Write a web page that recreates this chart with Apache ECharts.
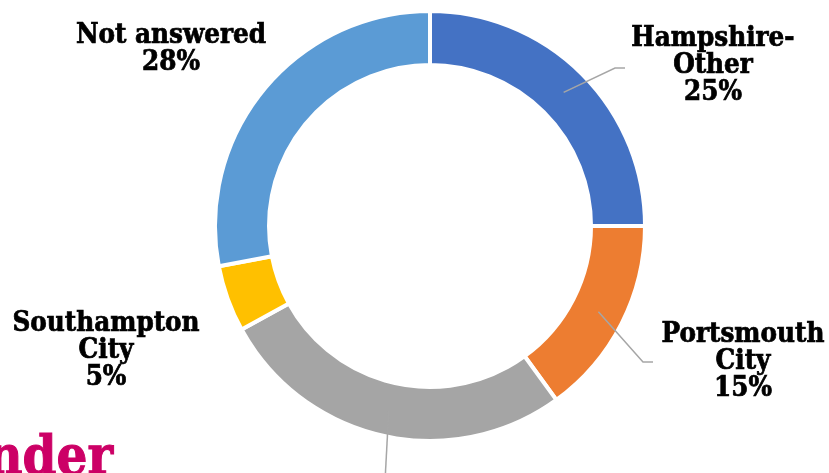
<!DOCTYPE html>
<html>
<head>
<meta charset="utf-8">
<script src="https://cdn.jsdelivr.net/npm/echarts@6/dist/echarts.min.js"></script>
<style>
  html, body { margin: 0; padding: 0; background: #ffffff; }
  #chart { width: 829px; height: 473px; }
</style>
</head>
<body>
<div id="chart"></div>
<script>
// Respondents by area (share of total, %)
const areas = ['Hampshire-\nOther', 'Portsmouth\nCity', 'Outside\nHampshire', 'Southampton\nCity', 'Not answered'];
const shares = [25, 15, 27, 5, 28];
const sliceColors = ['#4472C4', '#ED7D31', '#A5A5A5', '#FFC000', '#5B9BD5'];

// Label block centres and leader-line ends (null = no leader line)
const labelCentres = [[713, 66], [743, 362], [386, 530], [106, 351], [171, 49]];
const leaderEnds = [[625, 68], [653, 362], [384, 500], null, null];

const font = '"DejaVu Serif Condensed", "DejaVu Serif", serif';

const chart = echarts.init(document.getElementById('chart'), null, { renderer: 'canvas' });

const ringData = areas.map((name, i) => ({
  name,
  value: shares[i],
  itemStyle: { color: sliceColors[i] }
}));

const labelData = areas.map((name, i) => ({
  name,
  value: shares[i],
  labelLine: { show: leaderEnds[i] !== null }
}));

chart.setOption({
  animation: false,
  series: [
    {
      type: 'pie',
      center: [430, 226],
      radius: [161, 215],
      startAngle: 90,
      clockwise: true,
      silent: true,
      avoidLabelOverlap: false,
      itemStyle: { borderColor: '#ffffff', borderWidth: 4 },
      label: { show: false },
      labelLine: { show: false },
      emphasis: { disabled: true },
      data: ringData,
      z: 1
    },
    {
      // transparent ring used only to anchor labels and leader lines mid-ring
      type: 'pie',
      center: [430, 226],
      radius: [0, 189],
      startAngle: 90,
      clockwise: true,
      silent: true,
      avoidLabelOverlap: false,
      itemStyle: { color: 'rgba(0,0,0,0)', borderWidth: 0 },
      emphasis: { disabled: true },
      label: {
        show: true,
        position: 'outside',
        formatter: p => p.name + '\n' + p.value + '%',
        fontFamily: font,
        fontWeight: 'bold',
        fontSize: 27.5,
        lineHeight: 27,
        color: '#000000',
        textBorderColor: '#000000',
        textBorderWidth: 0.7,
        align: 'center'
      },
      labelLine: {
        show: true,
        lineStyle: { color: '#A6A6A6', width: 1.5 }
      },
      labelLayout: function (params) {
        const i = params.dataIndex;
        const c = labelCentres[i];
        const out = { x: c[0], y: c[1], align: 'center', verticalAlign: 'middle' };
        const end = leaderEnds[i];
        if (end && params.labelLinePoints) {
          const start = params.labelLinePoints[0];
          const elbow = (i === 2) ? [end[0], end[1]] : [end[0] - 10, end[1]];
          out.labelLinePoints = [start, elbow, end];
        }
        return out;
      },
      data: labelData,
      z: 2
    }
  ],
  graphic: [
    {
      type: 'text',
      x: 113,
      y: 487,
      z: 10,
      style: {
        text: 'Gender',
        align: 'right',
        verticalAlign: 'bottom',
        fill: '#CC0066',
        stroke: '#CC0066',
        lineWidth: 1,
        font: 'bold 54px ' + font
      }
    }
  ]
});
</script>
</body>
</html>
